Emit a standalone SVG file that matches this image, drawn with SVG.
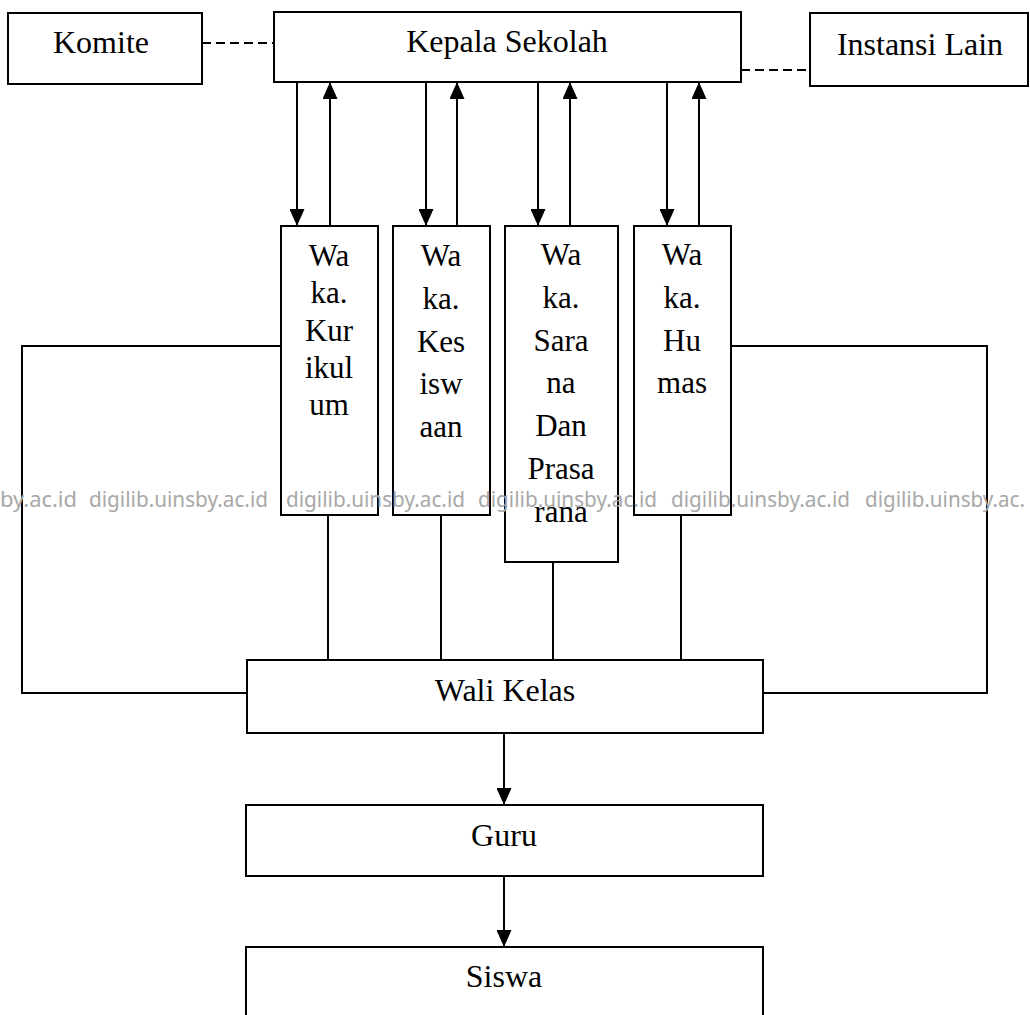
<svg xmlns="http://www.w3.org/2000/svg" width="1030" height="1015" viewBox="0 0 1030 1015">
<style>
  .box { fill: none; stroke: #000; stroke-width: 2; }
  .lbl { font-family: "Liberation Serif", "Times New Roman", serif; font-size: 32px; fill: #000; text-anchor: middle; }
  .wk { font-family: "Liberation Serif", "Times New Roman", serif; font-size: 31px; fill: #000; text-anchor: middle; }
  .ln { fill: none; stroke: #000; stroke-width: 2; }
  .dash { fill: none; stroke: #000; stroke-width: 2.2; stroke-dasharray: 9 5; }
  .arr { fill: none; stroke: #000; stroke-width: 2; marker-end: url(#ah); }
  .wm { font-family: "Noto Sans", "Open Sans", sans-serif; font-size: 22px; fill: #a8a8a8; }
</style>
<defs>
  <marker id="ah" markerUnits="userSpaceOnUse" markerWidth="17" markerHeight="15" refX="17" refY="7.5" orient="auto">
    <path d="M0,0 L17,7.5 L0,15 z" fill="#000"/>
  </marker>
</defs>
<rect width="1030" height="1015" fill="#fff"/>

<g id="connectors">
  <line class="dash" x1="202" y1="43" x2="274" y2="43"/>
  <line class="dash" x1="741" y1="70" x2="810" y2="70"/>
  <line class="arr" x1="297" y1="82" x2="297" y2="226"/>
  <line class="arr" x1="330" y1="226" x2="330" y2="82"/>
  <line class="arr" x1="426" y1="82" x2="426" y2="226"/>
  <line class="arr" x1="457" y1="226" x2="457" y2="82"/>
  <line class="arr" x1="538" y1="82" x2="538" y2="226"/>
  <line class="arr" x1="570" y1="226" x2="570" y2="82"/>
  <line class="arr" x1="667" y1="82" x2="667" y2="226"/>
  <line class="arr" x1="699" y1="226" x2="699" y2="82"/>
  <path class="ln" d="M281,346 H22 V693 H247"/>
  <path class="ln" d="M731,346 H987 V693 H763"/>
  <line class="ln" x1="328" y1="515" x2="328" y2="660"/>
  <line class="ln" x1="441" y1="515" x2="441" y2="660"/>
  <line class="ln" x1="553" y1="562" x2="553" y2="660"/>
  <line class="ln" x1="681" y1="515" x2="681" y2="660"/>
  <line class="arr" x1="504" y1="733" x2="504" y2="805"/>
  <line class="arr" x1="504" y1="876" x2="504" y2="947"/>
</g>

<g id="komite">
  <rect class="box" x="8" y="13" width="194" height="71"/>
  <text class="lbl" x="101" y="53">Komite</text>
</g>
<g id="kepala-sekolah">
  <rect class="box" x="274" y="12" width="467" height="70"/>
  <text class="lbl" x="507" y="52">Kepala Sekolah</text>
</g>
<g id="instansi-lain">
  <rect class="box" x="810" y="13" width="218" height="73"/>
  <text class="lbl" x="920" y="55">Instansi Lain</text>
</g>

<g id="waka-kurikulum">
  <rect class="box" x="281" y="226" width="97" height="289"/>
  <text class="wk" x="329" y="266">Wa</text>
  <text class="wk" x="329" y="303">ka.</text>
  <text class="wk" x="329" y="341">Kur</text>
  <text class="wk" x="329" y="378">ikul</text>
  <text class="wk" x="329" y="415">um</text>
</g>
<g id="waka-kesiswaan">
  <rect class="box" x="393" y="226" width="97" height="289"/>
  <text class="wk" x="441" y="266">Wa</text>
  <text class="wk" x="441" y="309">ka.</text>
  <text class="wk" x="441" y="352">Kes</text>
  <text class="wk" x="441" y="394">isw</text>
  <text class="wk" x="441" y="437">aan</text>
</g>
<g id="waka-sarana">
  <rect class="box" x="505" y="226" width="113" height="336"/>
  <text class="wk" x="561" y="265">Wa</text>
  <text class="wk" x="561" y="308">ka.</text>
  <text class="wk" x="561" y="351">Sara</text>
  <text class="wk" x="561" y="393">na</text>
  <text class="wk" x="561" y="436">Dan</text>
  <text class="wk" x="561" y="479">Prasa</text>
  <text class="wk" x="561" y="522">rana</text>
</g>
<g id="waka-humas">
  <rect class="box" x="634" y="226" width="97" height="289"/>
  <text class="wk" x="682" y="265">Wa</text>
  <text class="wk" x="682" y="308">ka.</text>
  <text class="wk" x="682" y="351">Hu</text>
  <text class="wk" x="682" y="393">mas</text>
</g>

<g id="wali-kelas">
  <rect class="box" x="247" y="660" width="516" height="73"/>
  <text class="lbl" x="505" y="701">Wali Kelas</text>
</g>
<g id="guru">
  <rect class="box" x="246" y="805" width="517" height="71"/>
  <text class="lbl" x="504" y="846">Guru</text>
</g>
<g id="siswa">
  <rect class="box" x="246" y="947" width="517" height="80"/>
  <text class="lbl" x="504" y="987">Siswa</text>
</g>

<g id="watermark">
  <text class="wm" x="0" y="507" textLength="77" lengthAdjust="spacingAndGlyphs">by.ac.id</text>
  <text class="wm" x="89" y="507" textLength="179" lengthAdjust="spacingAndGlyphs">digilib.uinsby.ac.id</text>
  <text class="wm" x="286" y="507" textLength="179" lengthAdjust="spacingAndGlyphs">digilib.uinsby.ac.id</text>
  <text class="wm" x="478" y="507" textLength="179" lengthAdjust="spacingAndGlyphs">digilib.uinsby.ac.id</text>
  <text class="wm" x="671" y="507" textLength="179" lengthAdjust="spacingAndGlyphs">digilib.uinsby.ac.id</text>
  <text class="wm" x="865" y="507" textLength="160" lengthAdjust="spacingAndGlyphs">digilib.uinsby.ac.</text>
</g>
</svg>
